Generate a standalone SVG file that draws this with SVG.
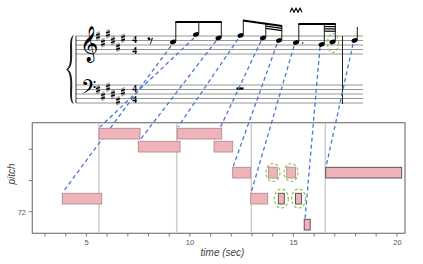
<svg xmlns="http://www.w3.org/2000/svg" xmlns:xlink="http://www.w3.org/1999/xlink" width="423" height="264" viewBox="0 0 423 264">
<defs>
<style>
.staff{stroke:#8a8a8a;stroke-width:0.9}
.stem{stroke:#000;stroke-width:0.9}
.beam{stroke:#000;stroke-width:2}
.beam2{stroke:#000;stroke-width:1.2}
.conn{stroke:#4a78cf;stroke-width:1.3;stroke-dasharray:4 3;fill:none}
.hl{stroke:#8cc55a;stroke-width:1.2;stroke-dasharray:3 2;fill:none}
.note{fill:#efb3ba;stroke:#b58a8f;stroke-width:0.9}
.note.dark{stroke:#4a4a4a}
.bar{stroke:#cccccc;stroke-width:1.5}
.axis{stroke:#7a7a7a;stroke-width:1}
.tick{font-family:"Liberation Sans",Arial,sans-serif;font-size:7.5px;fill:#555}
.lab{font-family:"Liberation Sans",Arial,sans-serif;font-size:10px;font-style:italic;fill:#444}
.ts{font-family:"Liberation Serif","Times New Roman",serif;font-size:9.5px;font-weight:bold;fill:#000;text-anchor:middle}
.clef{font-family:"DejaVu Sans","Noto Sans",sans-serif;fill:#000}
</style>
<g id="sharp">
<line x1="-0.9" y1="-3.8" x2="-0.9" y2="4.6" stroke="#000" stroke-width="0.6"/>
<line x1="0.9" y1="-4.6" x2="0.9" y2="3.8" stroke="#000" stroke-width="0.6"/>
<line x1="-2" y1="-0.9" x2="2" y2="-2.1" stroke="#000" stroke-width="1.1"/>
<line x1="-2" y1="2.1" x2="2" y2="0.9" stroke="#000" stroke-width="1.1"/>
</g>
<ellipse id="head" cx="0" cy="0" rx="3.1" ry="2.2" transform="rotate(-20)" fill="#000"/>
</defs>
<rect width="423" height="264" fill="#fff"/>

<g id="score">
<g id="treble-staff">
<line class="staff" x1="76" y1="36" x2="363" y2="36"/>
<line class="staff" x1="76" y1="40.5" x2="363" y2="40.5"/>
<line class="staff" x1="76" y1="45" x2="363" y2="45"/>
<line class="staff" x1="76" y1="49.5" x2="363" y2="49.5"/>
<line class="staff" x1="76" y1="54" x2="363" y2="54"/>
</g>
<g id="bass-staff">
<line class="staff" x1="76" y1="85" x2="363" y2="85"/>
<line class="staff" x1="76" y1="89.5" x2="363" y2="89.5"/>
<line class="staff" x1="76" y1="94" x2="363" y2="94"/>
<line class="staff" x1="76" y1="98.5" x2="363" y2="98.5"/>
<line class="staff" x1="76" y1="103" x2="363" y2="103"/>
</g>
<line x1="76" y1="36" x2="76" y2="103" stroke="#333" stroke-width="1"/>
<line x1="342.5" y1="36" x2="342.5" y2="104" stroke="#222" stroke-width="1"/>
<path d="M74,35 C68,37 71,50 70,60 C69.5,66 68,68 66,69.5 C68,71 69.5,73 70,79 C71,89 68,102 74,104 C70.5,100 73,89 72,79 C71.5,73 70,71 68,69.5 C70,68 71.5,66 72,60 C73,50 70.5,39 74,35 Z" fill="#222"/>
<text class="clef" x="79.5" y="53.5" font-size="31">𝄞</text>
<text class="clef" x="81" y="98" font-size="24">𝄢</text>
<use xlink:href="#sharp" x="98" y="36"/>
<use xlink:href="#sharp" x="103" y="42.75"/>
<use xlink:href="#sharp" x="108" y="33.75"/>
<use xlink:href="#sharp" x="113" y="40.5"/>
<use xlink:href="#sharp" x="118" y="47.25"/>
<use xlink:href="#sharp" x="123" y="38.25"/>
<use xlink:href="#sharp" x="98" y="89.5"/>
<use xlink:href="#sharp" x="103" y="96.25"/>
<use xlink:href="#sharp" x="108" y="87.25"/>
<use xlink:href="#sharp" x="113" y="94"/>
<use xlink:href="#sharp" x="118" y="100.75"/>
<use xlink:href="#sharp" x="123" y="91.75"/>
<text class="ts" x="134.5" y="43.3">4</text>
<text class="ts" x="134.5" y="54.4">4</text>
<text class="ts" x="134.5" y="92.3">4</text>
<text class="ts" x="134.5" y="103.4">4</text>
<circle cx="148.8" cy="38.6" r="1.3" fill="#000"/>
<path d="M148.8,39.6 Q151,40 152.6,38 L150.2,44.5" fill="none" stroke="#000" stroke-width="0.8"/>
<rect x="236.5" y="87.4" width="7" height="2.3" fill="#000"/>
<g id="notes">
<use xlink:href="#head" x="173" y="42"/>
<use xlink:href="#head" x="196" y="34.5"/>
<use xlink:href="#head" x="218.5" y="38"/>
<line class="stem" x1="175.8" y1="41.5" x2="175.8" y2="22"/>
<line class="stem" x1="198.8" y1="34" x2="198.8" y2="22"/>
<line class="stem" x1="221.3" y1="37.5" x2="221.3" y2="22"/>
<line class="beam" x1="175.4" y1="22" x2="221.7" y2="22"/>
<use xlink:href="#head" x="240.5" y="35.5"/>
<use xlink:href="#head" x="263" y="38"/>
<use xlink:href="#head" x="279" y="40.5"/>
<line class="stem" x1="243.3" y1="35" x2="243.3" y2="20.5"/>
<line class="stem" x1="265.8" y1="37.5" x2="265.8" y2="23.7"/>
<line class="stem" x1="281.8" y1="40" x2="281.8" y2="26"/>
<line class="beam" x1="242.9" y1="20.4" x2="282.2" y2="26"/>
<line class="beam2" x1="265.8" y1="26.1" x2="282.2" y2="28.4"/>
<line class="beam2" x1="265.8" y1="28.3" x2="282.2" y2="30.6"/>
<use xlink:href="#head" x="296" y="42.5"/>
<circle cx="302.6" cy="43" r="0.8" fill="#000"/>
<use xlink:href="#head" x="321.5" y="44.5"/>
<use xlink:href="#head" x="332.5" y="42"/>
<line class="stem" x1="298.8" y1="42" x2="298.8" y2="24"/>
<line class="stem" x1="324.3" y1="44" x2="324.3" y2="24"/>
<line class="stem" x1="335.3" y1="41.5" x2="335.3" y2="24"/>
<line class="beam" x1="298.4" y1="24" x2="335.7" y2="24"/>
<line class="beam2" x1="324.3" y1="26.6" x2="335.7" y2="26.6"/>
<line class="beam2" x1="324.3" y1="28.9" x2="335.7" y2="28.9"/>
<line class="beam2" x1="324.3" y1="31.2" x2="335.7" y2="31.2"/>
<use xlink:href="#head" x="354.5" y="40.5"/>
<line class="stem" x1="357.3" y1="40" x2="357.3" y2="27"/>
<path d="M290,12.3 L292,8.3 L294,12.3 L296,8.3 L298,12.3 L300,8.3 L302,12.3" fill="none" stroke="#000" stroke-width="1.1"/>
</g>
<ellipse class="hl" cx="333" cy="43" rx="5.5" ry="9.5"/>
</g>

<g id="plot">
<rect x="32.3" y="122.7" width="372.7" height="110.6" fill="#fff" stroke="#7a7a7a" stroke-width="1.2"/>
<line class="bar" x1="99" y1="123.3" x2="99" y2="232.7"/>
<line class="bar" x1="176.7" y1="123.3" x2="176.7" y2="232.7"/>
<line class="bar" x1="251.3" y1="123.3" x2="251.3" y2="232.7"/>
<line class="bar" x1="325.3" y1="123.3" x2="325.3" y2="232.7"/>
<g id="x-axis">
<path class="axis" d="M45,233.3V236.5M65.7,233.3V236.5M86.4,233.3V236.5M107.1,233.3V236.5M127.8,233.3V236.5M148.5,233.3V236.5M169.2,233.3V236.5M189.9,233.3V236.5M210.6,233.3V236.5M231.3,233.3V236.5M252,233.3V236.5M272.7,233.3V236.5M293.4,233.3V236.5M314.1,233.3V236.5M334.8,233.3V236.5M355.5,233.3V236.5M376.2,233.3V236.5M396.9,233.3V236.5"/>
<text class="tick" x="86.6" y="245" text-anchor="middle">5</text>
<text class="tick" x="190" y="245" text-anchor="middle">10</text>
<text class="tick" x="293.6" y="245" text-anchor="middle">15</text>
<text class="tick" x="397.4" y="245" text-anchor="middle">20</text>
<text class="lab" x="222.5" y="255.5" text-anchor="middle" font-size="9.6">time (sec)</text>
</g>
<g id="y-axis">
<path class="axis" d="M28.8,149.3H32.3M28.8,180.6H32.3M28.8,211.7H32.3"/>
<text class="tick" x="26" y="214.5" text-anchor="end">72</text>
<text class="lab" transform="translate(14.5,174) rotate(-90)" text-anchor="middle">pitch</text>
</g>
</g>

<g id="connectors">
<line class="conn" x1="171" y1="46" x2="63" y2="192"/>
<line class="conn" x1="194" y1="38" x2="100" y2="127"/>
<line class="conn" x1="216" y1="41" x2="140" y2="140"/>
<line class="conn" x1="238" y1="39" x2="178" y2="127"/>
<line class="conn" x1="261" y1="41" x2="214" y2="141"/>
<line class="conn" x1="277" y1="44" x2="233" y2="167"/>
<line class="conn" x1="294" y1="46" x2="251" y2="193"/>
<line class="conn" x1="320" y1="47" x2="305" y2="219"/>
<line class="conn" x1="353" y1="44" x2="326" y2="167"/>
</g>

<g id="nA"><rect class="note" x="62.3" y="193.3" width="39.4" height="10.7"/></g>
<g id="nB"><rect class="note" x="99" y="128.3" width="41" height="10.7"/></g>
<g id="nC"><rect class="note" x="138.3" y="141.3" width="41.7" height="10.7"/></g>
<g id="nD"><rect class="note" x="177.3" y="128.3" width="44.4" height="10.7"/></g>
<g id="nE"><rect class="note" x="214" y="141.3" width="18.7" height="10.7"/></g>
<g id="nF"><rect class="note" x="232.7" y="167.3" width="18" height="10.7"/></g>
<g id="nG"><rect class="note" x="268.5" y="167.3" width="8.8" height="10.7"/><ellipse class="hl" cx="273" cy="172.5" rx="7" ry="9"/></g>
<g id="nH"><rect class="note" x="286.7" y="167.3" width="8.8" height="10.7"/><ellipse class="hl" cx="291" cy="172.5" rx="7" ry="9"/></g>
<g id="nI"><rect class="note dark" x="325.7" y="167.3" width="76" height="10.7"/></g>
<g id="nJ"><rect class="note" x="250.7" y="193.3" width="17" height="10.7"/></g>
<g id="nK"><rect class="note dark" x="278.3" y="193.3" width="6" height="10.7"/><ellipse class="hl" cx="281.3" cy="198.5" rx="7" ry="9.5"/></g>
<g id="nL"><rect class="note dark" x="295.5" y="193.3" width="6" height="10.7"/><ellipse class="hl" cx="298.5" cy="198.5" rx="7" ry="9.5"/></g>
<g id="nM"><rect class="note dark" x="304.2" y="219.3" width="6" height="10.7"/></g>
</svg>
